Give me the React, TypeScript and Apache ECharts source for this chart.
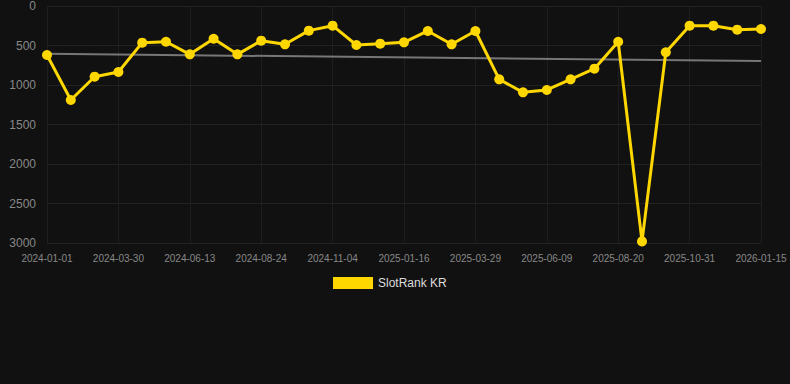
import React, { useEffect, useRef } from "react";
import * as echarts from "echarts";

const categories = [
  "2024-01-01", "2024-01-25", "2024-02-18", "2024-03-30", "2024-04-24", "2024-05-19",
  "2024-06-13", "2024-07-07", "2024-07-31", "2024-08-24", "2024-09-17", "2024-10-11",
  "2024-11-04", "2024-11-28", "2024-12-23", "2025-01-16", "2025-02-09", "2025-03-05",
  "2025-03-29", "2025-04-22", "2025-05-16", "2025-06-09", "2025-07-03", "2025-07-27",
  "2025-08-20", "2025-09-13", "2025-10-07", "2025-10-31", "2025-11-24", "2025-12-20",
  "2026-01-15",
];

const rankValues = [
  620, 1190, 895, 835, 464, 452, 612, 414, 612, 439, 485, 312, 249, 494, 477, 460,
  316, 485, 316, 928, 1093, 1063, 928, 793, 452, 2980, 586, 249, 249, 300, 291,
];

const trendStart = 605;
const trendEnd = 695;

const yTicks = { min: 0, max: 3000, interval: 500 };

export default function App() {
  const ref = useRef<HTMLDivElement>(null);
  useEffect(() => {
    document.body.style.margin = "0";
    document.body.style.background = "#111111";
    if (!ref.current) return;
    const chart = echarts.init(ref.current, null, { renderer: "svg" });
    const trendData = categories.map((_, i) =>
      i === 0 ? trendStart : i === categories.length - 1 ? trendEnd : null
    );
    chart.setOption({
      animation: false,
      backgroundColor: "#111111",
      textStyle: { fontFamily: "Arial, Liberation Sans, sans-serif" },
      grid: { left: 47, right: 29, top: 6, bottom: 141 },
      legend: {
        data: ["SlotRank KR"],
        bottom: 90,
        left: 328,
        icon: "rect",
        itemWidth: 40,
        itemHeight: 12,
        textStyle: { color: "#dddddd", fontSize: 12 },
      },
      xAxis: {
        type: "category",
        data: categories,
        boundaryGap: false,
        axisLine: { show: false },
        axisTick: { show: false },
        axisLabel: { interval: 2, color: "#888888", fontSize: 10, margin: 10 },
        splitLine: { show: true, interval: 2, lineStyle: { color: "#1e1e1e", width: 1 } },
      },
      yAxis: {
        type: "value",
        inverse: true,
        min: yTicks.min,
        max: yTicks.max,
        interval: yTicks.interval,
        axisLine: { show: false },
        axisTick: { show: false },
        axisLabel: {
          color: "#888888",
          fontSize: 12,
          margin: 11,
          formatter: (v: number) => String(v),
        },
        splitLine: { lineStyle: { color: "#222222", width: 1 } },
      },
      series: [
        {
          name: "Trend",
          type: "line",
          data: trendData,
          connectNulls: true,
          symbol: "none",
          lineStyle: { color: "#777777", width: 2 },
          z: 1,
        },
        {
          name: "SlotRank KR",
          type: "line",
          data: rankValues,
          symbol: "circle",
          symbolSize: 10,
          itemStyle: { color: "#FFD700" },
          lineStyle: { color: "#FFD700", width: 3 },
          z: 2,
        },
      ],
    });
    return () => chart.dispose();
  }, []);
  return <div ref={ref} style={{ width: 790, height: 384 }} />;
}
